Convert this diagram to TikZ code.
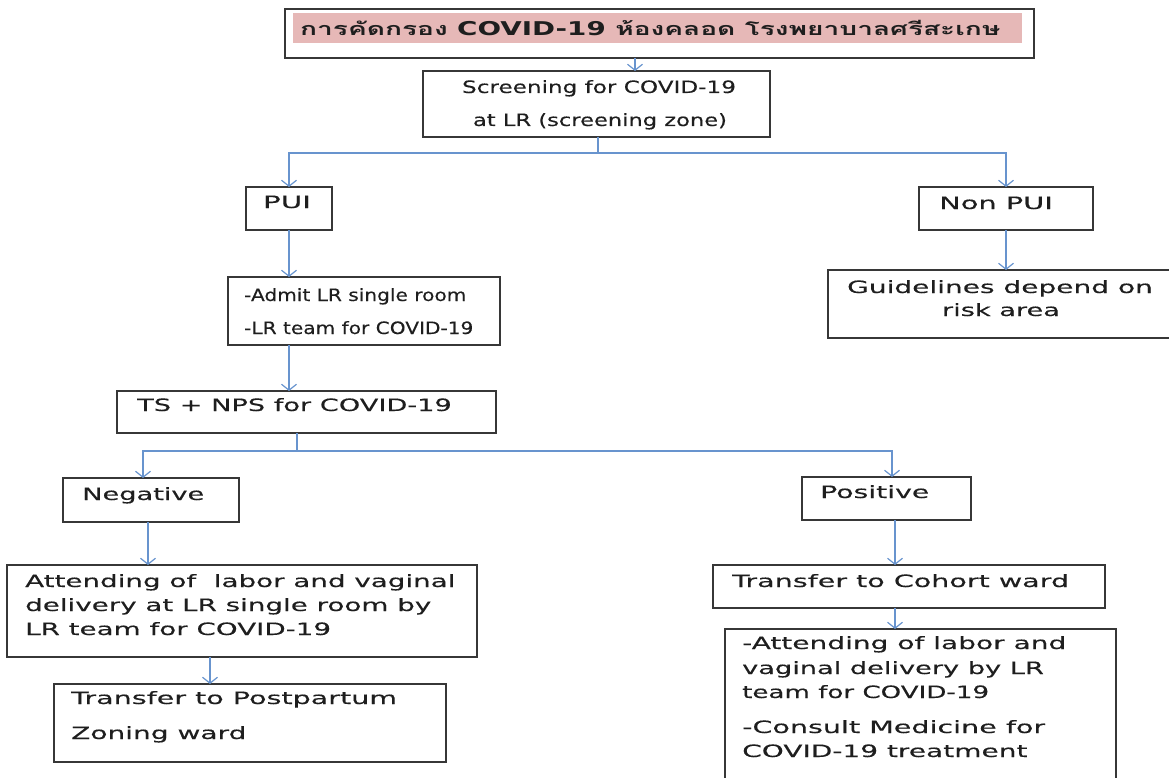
\documentclass[tikz,border=0pt]{standalone}
\usepackage{graphicx}
\usepackage{fontspec}
\setmainfont{DejaVu Sans}[FakeStretch=1.6,FakeBold=0.3]
\newfontfamily\thaifont[Script=Thai,FakeStretch=1.56]{Loma}
\newfontfamily\titlelatin[FakeStretch=1.46]{DejaVu Sans}
\usetikzlibrary{arrows.meta}
\definecolor{flowblue}{RGB}{104,148,206}
\definecolor{titlepink}{RGB}{230,184,183}
\definecolor{boxline}{RGB}{55,55,55}
\definecolor{ink}{RGB}{30,30,30}
% horizontal-only scaling of a line of text
\newcommand\hstretch[2]{\scalebox{#1}[1]{#2}}
\begin{document}
\begin{tikzpicture}[x=1pt,y=-1pt,
  box/.style={draw=boxline, line width=1.4pt, anchor=north west, inner sep=0pt, outer sep=0pt},
  conn/.style={draw=flowblue, line width=1.3pt},
  arr/.style={conn, -{Straight Barb[length=6pt,width=15pt,line width=1.2pt]}},
  txt/.style={anchor=base west, inner sep=0pt, text=ink, font=\fontsize{17}{20}\selectfont},
  ctxt/.style={txt, anchor=base},
]
\clip (0,0) rectangle (1169,778);

% boxes
\node[box, minimum width=749pt, minimum height=49pt] (title) at (285,9) {};
\node[fill=titlepink, anchor=north west, inner sep=0pt, minimum width=729pt, minimum height=30pt] (titlebar) at (293,13) {};
\node[box, minimum width=347pt, minimum height=66pt] (screen) at (423,71) {};
\node[box, minimum width=86pt, minimum height=43pt] (pui) at (246,187) {};
\node[box, minimum width=174pt, minimum height=43pt] (nonpui) at (919,187) {};
\node[box, minimum width=272pt, minimum height=68pt] (admit) at (228,277) {};
\node[box, minimum width=360pt, minimum height=68pt] (guide) at (828,270) {};
\node[box, minimum width=379pt, minimum height=42pt] (ts) at (117,391) {};
\node[box, minimum width=176pt, minimum height=44pt] (neg) at (63,478) {};
\node[box, minimum width=169pt, minimum height=43pt] (pos) at (802,477) {};
\node[box, minimum width=470pt, minimum height=92pt] (attend) at (7,565) {};
\node[box, minimum width=392pt, minimum height=78pt] (postp) at (54,684) {};
\node[box, minimum width=392pt, minimum height=43pt] (cohort) at (713,565) {};
\node[box, minimum width=391pt, minimum height=170pt] (care) at (725,629) {};

% connector columns and junctions
\coordinate (xA) at (635,0);
\coordinate (j1) at (598,153);
\coordinate (j2) at (297,451);
\coordinate (xN) at (143,0);
\coordinate (xP) at (892,0);
\coordinate (xN2) at (148,0);
\coordinate (xD) at (210,0);
\coordinate (xP2) at (895,0);

% connectors
\draw[arr] (title.south -| xA) -- (screen.north -| xA);
\draw[conn] (screen.south -| j1) -- (j1);
\draw[arr] (j1) -| (pui.north);
\draw[arr] (j1) -| (nonpui.north);
\draw[arr] (pui.south) -- (admit.north -| pui.south);
\draw[arr] (nonpui.south) -- (guide.north -| nonpui.south);
\draw[arr] (admit.south -| pui.south) -- (ts.north -| pui.south);
\draw[conn] (ts.south -| j2) -- (j2);
\draw[arr] (j2) -| (neg.north -| xN);
\draw[arr] (j2) -| (pos.north -| xP);
\draw[arr] (neg.south -| xN2) -- (attend.north -| xN2);
\draw[arr] (attend.south -| xD) -- (postp.north -| xD);
\draw[arr] (pos.south -| xP2) -- (cohort.north -| xP2);
\draw[arr] (cohort.south -| xP2) -- (care.north -| xP2);

% texts
\node[anchor=base west, inner sep=0pt, text=ink] (tt) at (300,36)
  {\fontsize{18}{20}\thaifont\bfseries การคัดกรอง {\fontsize{19}{22}\titlelatin\bfseries COVID-19} ห้องคลอด โรงพยาบาลศรีสะเกษ};
\node[ctxt] (t1) at (599,93) {\hstretch{0.85}{Screening for COVID-19}};
\node[ctxt] (t2) at (600,126) {\hstretch{0.83}{at LR (screening zone)}};
\node[ctxt] (t3) at (287,208) {\hstretch{1.08}{PUI}};
\node[txt] (t4) at (939,209) {\hstretch{1.06}{Non PUI}};
\node[txt] (t5) at (244,301) {\hstretch{0.74}{-Admit LR single room}};
\node[txt] (t6) at (244,334) {\hstretch{0.74}{-LR team for COVID-19}};
\node[ctxt] (t7) at (1000,293) {\hstretch{1.03}{Guidelines depend on}};
\node[ctxt] (t8) at (1001,316) {risk area};
\node[txt] (t9) at (137,411) {TS + NPS for COVID-19};
\node[txt] (t10) at (82,500) {Negative};
\node[txt] (t11) at (820,498) {\hstretch{1.04}{Positive}};
\node[txt] (t12) at (25,587) {\hstretch{1.02}{Attending of\ \ labor and vaginal}};
\node[txt] (t13) at (25,611) {\hstretch{1.02}{delivery at LR single room by}};
\node[txt] (t14) at (25,635) {\hstretch{1.02}{LR team for COVID-19}};
\node[txt] (t15) at (71,704) {\hstretch{1.05}{Transfer to Postpartum}};
\node[txt] (t16) at (71,739) {\hstretch{1.03}{Zoning ward}};
\node[txt] (t17) at (732,587) {\hstretch{1.05}{Transfer to Cohort ward}};
\node[txt] (t18) at (742,649) {\hstretch{1.03}{-Attending of labor and}};
\node[txt] (t19) at (742,674) {\hstretch{1.0}{vaginal delivery by LR}};
\node[txt] (t20) at (742,698) {\hstretch{0.96}{team for COVID-19}};
\node[txt] (t21) at (742,733) {\hstretch{1.05}{-Consult Medicine for}};
\node[txt] (t22) at (742,757) {\hstretch{1.03}{COVID-19 treatment}};
\end{tikzpicture}
\end{document}
